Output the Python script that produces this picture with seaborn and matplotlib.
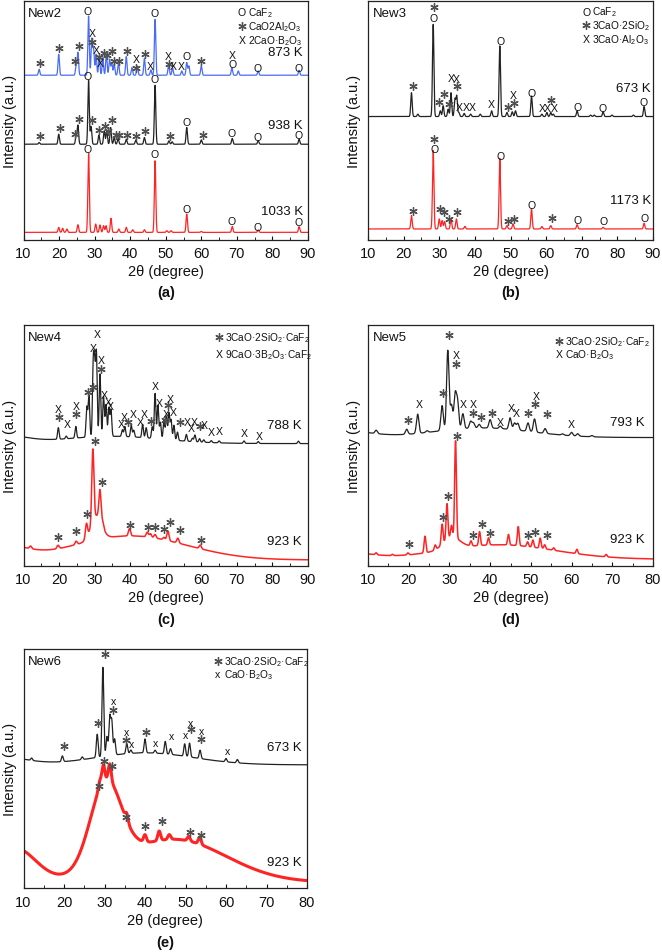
import numpy as np
import seaborn as sns
import matplotlib.pyplot as plt
from matplotlib.ticker import MultipleLocator

# style
sns.set_theme(style="ticks")
plt.rcParams['font.family'] = ['Liberation Sans', 'DejaVu Sans']
plt.rcParams['mathtext.default'] = 'regular'

BLUE = '#4a6cf4'
BLACK = '#222222'
RED = '#ff2424'
STAR = '#505050'

# ---------------- data (peak positions in 2theta, heights in a.u.) ----------------
# (a) New2
a873_base = 68.9
a873_pos = [14.4, 19.9, 24.8, 25.3, 28.3, 29.2, 29.7, 30.4, 31.3, 32.3, 33.3, 34.2, 34.8, 35.5,
            36.7, 38.9, 40.5, 42.0, 44.0, 45.8, 47.0, 50.8, 51.9, 54.5, 55.9, 56.5, 60.0, 68.6,
            70.4, 76.0, 87.5]
a873_hts = [2.5, 8.8, 3.9, 9.5, 24.8, 15.1, 10.9, 8.8, 8.1, 7.4, 8.8, 6.7, 5.3, 4.6,
            5.3, 7.8, 3.2, 3.9, 7.0, 2.2, 23.4, 4.2, 3.2, 1.8, 5.3, 3.9, 3.9, 3.2,
            1.8, 1.8, 2.1]
a938_base = 40.0
a938_pos = [14.4, 19.9, 24.8, 25.3, 28.3, 29.0, 31.2, 32.7, 33.4, 34.5, 35.5, 36.6, 38.9, 41.6,
            44.0, 47.0, 50.9, 51.8, 55.9, 60.0, 68.7, 76.0, 87.5]
a938_hts = [0.7, 4.2, 3.5, 7.9, 26.8, 7.4, 3.8, 5.6, 5.6, 7.0, 2.8, 2.4, 2.1, 1.8,
            2.8, 24.7, 1.4, 1.0, 7.0, 1.8, 2.4, 1.4, 2.1]
a1033_base = 3.07
a1033_pos = [19.9, 21.0, 22.2, 25.3, 28.3, 30.3, 31.5, 32.5, 33.2, 34.6, 36.8, 38.9, 40.7, 44.0,
             47.0, 50.3, 51.5, 55.9, 60.0, 68.7, 76.0, 87.5]
a1033_hts = [2.1, 1.7, 1.4, 3.2, 33.1, 3.5, 3.1, 2.8, 2.8, 5.9, 1.4, 2.1, 1.1, 1.1,
             30.0, 0.7, 0.7, 7.7, 0.4, 2.5, 1.0, 2.4]

# (b) New3
b673_base = 51.6
b673_pos = [22.2, 24.0, 28.3, 30.3, 31.1, 32.5, 33.3, 34.4, 34.9, 35.5, 37.0, 38.8, 41.5, 44.7,
            47.0, 49.0, 50.5, 51.4, 55.9, 58.8, 60.2, 61.3, 62.0, 68.7, 72.5, 73.5, 76.0, 78.5,
            84.5, 87.5]
b673_hts = [10.0, 1.0, 38.6, 2.4, 4.5, 3.1, 10.0, 7.3, 8.6, 1.7, 1.3, 1.0, 1.0, 2.4,
            29.6, 1.7, 2.0, 2.4, 8.6, 1.0, 1.7, 1.7, 1.0, 2.4, 0.6, 0.6, 2.0, 0.6,
            0.6, 4.2]
b1173_base = 4.5
b1173_pos = [22.2, 28.3, 30.0, 30.8, 31.5, 33.3, 34.8, 37.2, 47.0, 49.0, 50.7, 55.9, 58.8, 61.3,
             68.7, 76.0, 87.5]
b1173_hts = [5.6, 32.8, 4.2, 3.5, 3.1, 4.2, 4.2, 1.1, 29.6, 1.4, 2.1, 8.4, 1.0, 1.4,
             1.8, 0.7, 2.4]

# (c) New4   (background humps: centre, height, width)
c788_base = 50.8
c788_bg = [(5, 3, 6), (35, 3, 14)]
c788_pos = [19.8, 22.0, 24.7, 27.8, 28.4, 29.6, 30.0, 30.5, 31.5, 32.5, 33.2, 34.0, 34.6, 37.8,
            38.5, 40.3, 41.0, 43.5, 44.5, 46.2, 47.0, 47.8, 48.5, 49.5, 50.2, 50.9, 51.5, 52.3,
            53.3, 55.8, 57.5, 58.2, 59.5, 60.7, 62.8, 65.0, 72.0, 76.0, 87.3]
c788_hts = [4.8, 1.1, 4.8, 12.5, 17.3, 28.0, 26.0, 34.0, 26.0, 16.6, 13.2, 11.8, 11.1, 2.8,
            4.2, 4.8, 2.8, 5.5, 4.2, 4.8, 18.7, 13.9, 6.9, 8.3, 9.7, 11.1, 8.3, 6.2,
            3.5, 2.8, 1.4, 2.8, 1.4, 1.0, 0.8, 0.8, 1.0, 0.8, 1.0]
c923_base = 2.5
c923_bg = [(5, 5, 6), (40, 10, 16), (30.5, 10, 1.5)]
c923_pos = [12.0, 19.7, 24.8, 27.7, 29.5, 31.5, 32.3, 39.8, 44.8, 45.7, 47.0, 49.5, 50.6, 53.4, 59.7]
c923_hts = [1.1, 1.4, 1.4, 6.0, 30.0, 12.5, 2.0, 3.0, 2.0, 1.5, 1.5, 1.0, 4.0, 2.0, 1.5]

# (d) New5
d793_base = 53.3
d793_bg = [(5, 2.5, 6), (38, 4, 12)]
d793_pos = [12.0, 19.5, 22.2, 24.5, 28.2, 29.6, 30.5, 31.4, 32.0, 33.3, 35.2, 35.9, 37.3, 40.0,
            42.5, 44.9, 46.0, 46.8, 49.3, 50.9, 53.5, 57.8, 60.0, 61.5, 65.0]
d793_hts = [1.4, 2.1, 8.0, 0.7, 10.4, 33.0, 10.0, 14.0, 11.0, 6.2, 2.8, 2.1, 1.5, 3.5,
            1.0, 4.8, 2.8, 2.8, 3.5, 5.5, 2.0, 0.5, 1.4, 1.0, 0.5]
d923_base = 2.8
d923_bg = [(5, 2.5, 6), (42, 6, 14), (30.5, 5, 2)]
d923_pos = [12.0, 16.0, 19.8, 24.0, 26.5, 28.2, 29.4, 30.5, 31.5, 35.3, 37.4, 39.6, 44.5, 46.9,
            49.2, 50.5, 52.3, 53.4, 55.6, 61.3, 68.5]
d923_hts = [0.8, 0.5, 0.8, 6.9, 2.0, 8.3, 14.8, 4.8, 40.2, 2.0, 5.8, 3.0, 4.4, 7.9,
            2.0, 3.0, 4.2, 1.7, 1.0, 1.8, 1.0]

# (e) New6
e673_base = 51.6
e673_bg = [(5, 3, 6), (40, 5, 12)]
e673_pos = [12.0, 19.6, 24.5, 28.2, 29.6, 30.6, 31.3, 31.8, 32.5, 35.5, 36.5, 40.0, 42.5, 45.0,
            46.3, 49.8, 51.0, 53.6, 60.0, 62.8]
e673_hts = [1.0, 2.4, 1.1, 9.7, 37.3, 8.1, 16.0, 14.0, 6.7, 4.2, 1.4, 5.8, 1.2, 5.2,
            2.4, 5.2, 5.8, 3.5, 1.4, 1.4]
e923_base = 2.5
e923_bg = [(8, 14, 5), (30.3, 35, 3.8), (47, 18, 13)]
e923_pos = [28.8, 29.7, 31.3, 35.5, 40.0, 43.5, 46.0, 50.8, 53.5]
e923_hts = [3.0, 7.0, 7.0, 3.0, 3.0, 4.0, 2.0, 2.0, 3.0]

# phase marks: (symbol, 2theta, height)
a_marks = [('O', 28.1, 95.8), ('O', 46.9, 94.8), ('*', 14.5, 73.9), ('*', 20.1, 80.5),
           ('*', 25.6, 81.2), ('*', 24.6, 74.9), ('X', 29.3, 86.7), ('*', 29.3, 82.8),
           ('X', 30.6, 79.5), ('*', 31.2, 76.5), ('X', 31.6, 74.2), ('*', 32.6, 78.4),
           ('*', 33.5, 77.5), ('*', 34.8, 79.1), ('*', 35.4, 74.9), ('*', 36.8, 74.9),
           ('*', 39.2, 79.1), ('X', 41.7, 75.9), ('*', 41.7, 72.1), ('*', 44.1, 77.7),
           ('X', 45.7, 72.8), ('X', 50.8, 77.0), ('*', 50.8, 73.8), ('X', 52.0, 72.8),
           ('X', 54.4, 72.8), ('O', 55.8, 77.0), ('*', 60.0, 74.9), ('X', 68.7, 77.3),
           ('O', 68.7, 73.5), ('O', 75.8, 72.1), ('O', 87.4, 72.1),
           ('O', 28.1, 68.6), ('O', 46.9, 67.2), ('*', 14.5, 43.5), ('*', 20.3, 47.0),
           ('*', 25.6, 50.5), ('*', 24.6, 44.2), ('*', 29.3, 50.2), ('*', 31.2, 45.9),
           ('*', 32.8, 47.7), ('*', 33.7, 45.6), ('*', 35.0, 50.2), ('*', 35.9, 43.8),
           ('*', 36.8, 43.8), ('*', 39.1, 43.8), ('*', 41.7, 43.5), ('*', 44.1, 45.6),
           ('*', 51.1, 43.5), ('O', 55.8, 49.1), ('*', 60.5, 43.8), ('O', 68.6, 44.6),
           ('O', 75.8, 43.1), ('O', 87.4, 43.8),
           ('O', 28.1, 37.9), ('O', 46.9, 35.8), ('O', 55.8, 12.8), ('O', 68.6, 7.7),
           ('O', 75.8, 5.4), ('O', 87.4, 7.5)]
b_marks = [('*', 28.4, 97.6), ('O', 28.4, 93.0), ('O', 47.1, 83.3), ('*', 22.5, 64.4),
           ('*', 30.0, 57.5), ('*', 31.4, 61.2), ('*', 32.8, 56.8), ('X', 33.4, 67.6),
           ('X', 34.8, 67.2), ('*', 35.0, 64.2), ('X', 35.6, 55.8), ('X', 37.5, 55.8),
           ('X', 39.2, 55.4), ('X', 44.7, 56.8), ('*', 49.2, 55.8), ('*', 51.1, 57.2),
           ('X', 50.9, 60.7), ('O', 55.8, 61.6), ('X', 58.9, 55.0), ('X', 60.3, 55.0),
           ('*', 61.4, 58.6), ('X', 62.3, 55.0), ('O', 68.7, 55.4), ('O', 75.9, 55.0),
           ('O', 87.4, 57.5),
           ('*', 28.6, 42.1), ('O', 28.6, 37.9), ('O', 47.1, 35.1), ('*', 22.5, 12.1),
           ('*', 30.3, 12.8), ('*', 31.4, 11.7), ('*', 32.8, 8.6), ('*', 35.1, 11.7),
           ('*', 49.2, 7.9), ('*', 50.9, 8.6), ('O', 55.8, 14.6), ('*', 61.7, 8.9),
           ('O', 68.9, 8.4), ('O', 76.1, 7.7), ('O', 87.7, 9.3)]
c_marks = [('X', 30.7, 96.3), ('X', 29.7, 90.3), ('X', 31.9, 85.6), ('*', 31.9, 81.7),
           ('*', 28.1, 72.0), ('*', 29.5, 74.1), ('X', 32.8, 70.9), ('X', 33.7, 68.1),
           ('X', 34.5, 66.2), ('X', 19.9, 65.1), ('*', 20.1, 62.0), ('X', 22.2, 58.9),
           ('X', 24.8, 66.2), ('*', 24.8, 63.0), ('X', 37.5, 59.1), ('X', 38.2, 62.0),
           ('*', 39.5, 59.6), ('X', 40.8, 63.0), ('X', 42.9, 59.6), ('X', 43.9, 63.0),
           ('*', 45.9, 60.2), ('X', 47.1, 74.8), ('X', 48.3, 67.6), ('X', 50.2, 63.0),
           ('*', 49.7, 60.5), ('*', 50.6, 66.8), ('X', 51.4, 69.3), ('X', 52.2, 64.0),
           ('*', 53.9, 59.6), ('X', 56.0, 59.6), ('X', 58.1, 59.6), ('X', 57.3, 57.3),
           ('*', 59.5, 57.9), ('X', 60.9, 58.4), ('X', 62.8, 55.7), ('X', 65.0, 56.1),
           ('X', 72.2, 55.1), ('X', 76.2, 54.0),
           ('*', 30.0, 51.9), ('*', 32.0, 34.9), ('*', 27.9, 21.5), ('*', 19.8, 12.2),
           ('*', 24.8, 14.5), ('*', 40.0, 16.9), ('*', 45.0, 16.3), ('*', 47.1, 16.3),
           ('*', 49.4, 15.2), ('*', 51.1, 18.4), ('*', 53.9, 15.0), ('*', 59.8, 10.8)]
d_marks = [('*', 29.9, 95.8), ('X', 31.8, 87.5), ('*', 31.7, 83.8), ('*', 28.5, 71.7),
           ('X', 22.6, 67.2), ('*', 19.9, 60.7), ('X', 33.5, 67.2), ('X', 35.8, 67.2),
           ('*', 35.9, 63.4), ('*', 37.7, 62.0), ('*', 40.4, 63.4), ('X', 42.6, 59.6),
           ('X', 45.1, 65.5), ('X', 46.4, 63.4), ('*', 49.4, 63.4), ('X', 51.3, 70.4),
           ('*', 51.1, 67.2), ('*', 54.0, 63.0), ('X', 59.9, 58.9),
           ('*', 31.8, 54.0), ('*', 29.7, 29.1), ('*', 28.4, 20.5), ('*', 20.1, 9.0),
           ('*', 35.7, 12.7), ('*', 37.9, 17.6), ('*', 40.0, 13.6), ('*', 49.4, 12.7),
           ('*', 50.9, 14.1), ('*', 54.0, 12.7)]
e_marks = [('*', 30.0, 97.9), ('x', 32.1, 78.4), ('*', 32.1, 74.7), ('*', 28.4, 69.1),
           ('*', 20.0, 59.6), ('x', 35.4, 65.2), ('*', 35.4, 62.1), ('x', 36.6, 60.3),
           ('*', 40.3, 65.2), ('x', 42.6, 60.7), ('x', 46.5, 63.5), ('x', 50.0, 64.2),
           ('x', 51.3, 69.1), ('*', 51.4, 66.6), ('x', 53.9, 65.6), ('*', 53.9, 62.4),
           ('x', 60.3, 57.5),
           ('*', 29.9, 53.3), ('*', 31.9, 51.3), ('*', 28.6, 42.6), ('*', 35.4, 29.7),
           ('*', 39.9, 26.2), ('*', 44.2, 28.0), ('*', 51.0, 23.4), ('*', 53.9, 22.3)]

# legends: (symbol, text)
a_legend = [('O', 'CaF$_2$'), ('*', 'CaO2Al$_2$O$_3$'), ('X', '2CaO·B$_2$O$_3$')]
b_legend = [('O', 'CaF$_2$'), ('*', '3CaO·2SiO$_2$'), ('X', '3CaO·Al$_2$O$_3$')]
c_legend = [('*', '3CaO·2SiO$_2$·CaF$_2$'), ('X', '9CaO·3B$_2$O$_3$·CaF$_2$')]
d_legend = [('*', '3CaO·2SiO$_2$·CaF$_2$'), ('X', 'CaO·B$_2$O$_3$')]
e_legend = [('*', '3CaO·2SiO$_2$·CaF$_2$'), ('x', 'CaO·B$_2$O$_3$')]


def pattern(x, base, pos, hts, w, bg=()):
    y = np.full_like(x, base)
    for p, h in zip(pos, hts):
        y += h * np.exp(-0.5 * ((x - p) / w) ** 2)
    for c, h, s in bg:
        y += h * np.exp(-0.5 * ((x - c) / s) ** 2)
    return y


def mark(ax, s, x, y):
    if s == '*':
        ax.plot([x], [y], ls='none', marker=(6, 2, 0), ms=6, mew=0.95, color=STAR)
    else:
        ax.text(x, y, s, fontsize=7.6, ha='center', va='center', color='#111111')


W, H = 662, 953


def rect(l, t, r, b):
    return [l / W, 1 - b / H, (r - l) / W, (b - t) / H]


fig = plt.figure(figsize=(W / 100, H / 100), dpi=100)


def panel(box, xmax, name, letter, letter_y, traces, marks, legend, leg_x, leg_y, leg_dy,
          temps, temp_x):
    ax = fig.add_axes(rect(*box))
    x = np.linspace(10, xmax, int((xmax - 10) * 100) + 1)
    for (base, pos, hts, w, bg, color, lw) in traces:
        y = pattern(x, base, pos, hts, w, bg)
        sns.lineplot(x=x, y=y, ax=ax, color=color, linewidth=lw, estimator=None)
    for s, mx, my in marks:
        mark(ax, s, mx, my)
    span = xmax - 10
    for i, (s, txt) in enumerate(legend):
        ly = leg_y - i * leg_dy
        mark(ax, s, leg_x, ly)
        ax.text(leg_x + 0.02 * span, ly, txt, fontsize=7.3, ha='left', va='center', color='#111111')
    ax.text(10 + 0.016 * span, 95.0, name, fontsize=9.5, ha='left', va='center', color='#111111')
    for t, ty in temps:
        ax.text(temp_x, ty, t, fontsize=9.5, ha='right', va='center', color='#111111')
    ax.set_xlim(10, xmax)
    ax.set_ylim(0, 100)
    ax.set_yticks([])
    ax.xaxis.set_major_locator(MultipleLocator(10))
    ax.xaxis.set_minor_locator(MultipleLocator(5))
    ax.tick_params(axis='x', which='major', direction='in', length=3, width=0.8,
                   pad=4.5, labelsize=10.5, colors='#111111')
    ax.tick_params(axis='x', which='minor', direction='in', length=2, width=0.7)
    for sp in ax.spines.values():
        sp.set_linewidth(0.9)
        sp.set_color('#222222')
    ax.set_xlabel('2θ (degree)', fontsize=10.5, labelpad=3, color='#111111')
    ax.set_ylabel('Intensity (a.u.)', fontsize=10.5, labelpad=5, color='#111111')
    cx = (box[0] + box[2]) / 2 / W
    fig.text(cx, 1 - letter_y / H, letter, fontsize=10.5, fontweight='bold',
             ha='center', va='center', color='#111111')
    return ax


panel((23.5, 2, 308, 240.7), 90, 'New2', '(a)', 293,
      [(a873_base, a873_pos, a873_hts, 0.2, (), BLUE, 0.9),
       (a938_base, a938_pos, a938_hts, 0.2, (), BLACK, 0.9),
       (a1033_base, a1033_pos, a1033_hts, 0.2, (), RED, 0.9)],
      a_marks, a_legend, 71.4, 95.4, 5.8,
      [('873 K', 78.6), ('938 K', 48.0), ('1033 K', 12.1)], 88.6)

panel((368, 2, 653, 240.7), 90, 'New3', '(b)', 293,
      [(b673_base, b673_pos, b673_hts, 0.2, (), BLACK, 0.9),
       (b1173_base, b1173_pos, b1173_hts, 0.2, (), RED, 0.9)],
      b_marks, b_legend, 71.3, 95.6, 5.8,
      [('673 K', 63.7), ('1173 K', 16.6)], 89.4)

panel((23.5, 326, 308, 567), 90, 'New4', '(c)', 620,
      [(c788_base, c788_pos, c788_hts, 0.22, c788_bg, BLACK, 0.9),
       (c923_base, c923_pos, c923_hts, 0.3, c923_bg, RED, 1.1)],
      c_marks, c_legend, 65.0, 94.9, 6.9,
      [('788 K', 58.4), ('923 K', 10.4)], 88.1)

panel((368, 326, 653, 567), 80, 'New5', '(d)', 620,
      [(d793_base, d793_pos, d793_hts, 0.3, d793_bg, BLACK, 0.9),
       (d923_base, d923_pos, d923_hts, 0.22, d923_bg, RED, 1.1)],
      d_marks, d_legend, 57.0, 93.5, 5.5,
      [('793 K', 59.8), ('923 K', 11.1)], 77.9)

panel((23.5, 650, 307, 889.3), 80, 'New6', '(e)', 943,
      [(e673_base, e673_pos, e673_hts, 0.22, e673_bg, BLACK, 0.9),
       (e923_base, e923_pos, e923_hts, 0.35, e923_bg, RED, 2.2)],
      e_marks, e_legend, 58.0, 95.1, 5.5,
      [('673 K', 58.9), ('923 K', 10.9)], 78.6)

fig.savefig('out.png', dpi=100)
